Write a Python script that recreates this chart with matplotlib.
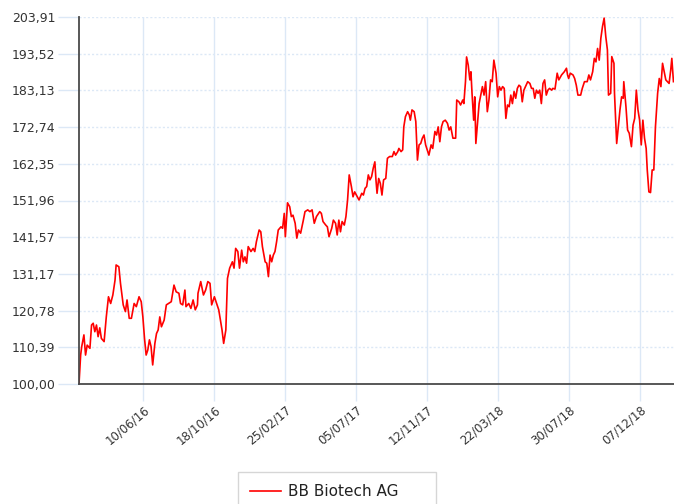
import numpy as np
import pandas as pd
import matplotlib
matplotlib.use('Agg')
import matplotlib.pyplot as plt

# prices, day offsets counted from the first trading day
start_date = '2016-02-13'
day_offsets = [
    0, 3, 5, 9, 12, 15, 20, 23, 26, 29, 32, 35, 38, 41, 46, 50, 54, 58, 62, 66,
    68, 73, 76, 81, 85, 88, 92, 96, 101, 105, 110, 114, 117, 120, 123, 126, 129, 132, 135, 139,
    142, 145, 148, 151, 156, 160, 164, 169, 174, 178, 183, 186, 190, 194, 196, 201, 205, 209, 213, 217,
    218, 223, 228, 232, 236, 240, 243, 248, 252, 256, 260, 262, 265, 269, 272, 276, 281, 284, 287, 291,
    294, 298, 301, 304, 307, 310, 315, 319, 322, 325, 330, 333, 336, 341, 344, 347, 350, 353, 356, 359,
    362, 365, 370, 373, 376, 378, 382, 386, 389, 392, 396, 399, 402, 406, 411, 414, 419, 423, 427, 431,
    435, 441, 444, 447, 452, 455, 458, 463, 466, 470, 473, 476, 479, 482, 486, 489, 492, 495, 499, 502,
    505, 510, 513, 518, 521, 524, 527, 530, 533, 536, 539, 542, 544, 546, 549, 552, 555, 558, 562, 565,
    569, 574, 577, 580, 584, 586, 590, 593, 595, 598, 602, 605, 607, 610, 614, 617, 620, 623, 626, 629,
    632, 635, 638, 641, 645, 648, 652, 655, 658, 661, 664, 667, 671, 675, 678, 681, 685, 690, 692, 696,
    699, 703, 705, 708, 710, 713, 716, 718, 720, 723, 725, 727, 730, 733, 736, 739, 742, 745, 748, 751,
    754, 757, 760, 764, 767, 770, 773, 776, 779, 782, 785, 788, 791, 794, 797, 800, 803, 806, 809, 812,
    815, 818, 822, 826, 829, 832, 835, 838, 841, 844, 847, 850, 853, 856, 859, 862, 866, 868, 872, 876,
    879, 884, 889, 893, 895, 897, 900, 905, 908, 911, 914, 919, 922, 926, 931, 934, 937, 941, 944, 947,
    950, 953, 956, 959, 962, 965, 968, 970, 974, 976, 980, 981, 985, 988, 991, 994, 997, 998, 1002, 1005,
    1008, 1012, 1015, 1018, 1021, 1024, 1027, 1030, 1033, 1036, 1039, 1041, 1044, 1047, 1050, 1053, 1056, 1060, 1063, 1066,
    1069, 1072, 1075, 1078, 1081, 1084, 1086, 1089,
]
prices = [
    100.0, 108.2, 110.6, 113.9, 108.2, 111.0, 110.1, 116.7, 117.2, 114.8, 116.7, 113.4, 115.9, 112.9, 112.0, 119.0, 124.7, 122.8, 125.2, 129.4,
    133.7, 133.2, 128.5, 122.4, 120.5, 123.8, 118.6, 118.6, 122.8, 121.9, 124.7, 123.3, 119.0, 112.9, 108.2, 109.6, 112.5, 110.6, 105.4, 111.5,
    114.3, 115.3, 119.0, 116.2, 118.1, 122.4, 122.8, 123.3, 128.0, 126.1, 125.7, 122.8, 122.4, 126.6, 121.9, 122.8, 121.4, 123.8, 121.0, 122.4,
    125.7, 129.0, 125.2, 126.6, 129.0, 128.5, 122.4, 124.7, 122.8, 121.0, 117.2, 115.3, 111.5, 115.3, 129.9, 132.8, 134.6, 132.8, 138.4, 137.5,
    132.8, 137.9, 134.6, 136.0, 134.2, 138.9, 137.5, 138.4, 137.5, 140.3, 143.6, 143.1, 138.9, 134.6, 134.2, 130.4, 136.5, 134.6, 136.5, 137.5,
    140.3, 143.6, 144.5, 144.1, 148.3, 141.7, 151.3, 150.2, 147.4, 147.8, 145.5, 141.3, 143.6, 142.7, 146.4, 148.8, 149.3, 148.8, 149.3, 145.5,
    147.4, 148.8, 148.3, 146.0, 145.0, 144.5, 141.7, 144.1, 146.4, 145.5, 142.2, 146.4, 143.1, 146.0, 145.0, 147.4, 152.1, 159.2, 155.9, 153.0,
    154.4, 153.0, 152.1, 154.0, 153.5, 155.4, 155.9, 159.2, 157.8, 158.7, 161.1, 162.9, 157.8, 154.0, 158.2, 156.8, 153.5, 157.8, 158.2, 163.9,
    164.4, 164.4, 165.8, 164.8, 165.8, 166.7, 165.8, 166.3, 172.8, 175.7, 177.1, 176.2, 174.7, 177.6, 177.1, 174.3, 163.4, 167.7, 168.1, 169.6,
    170.5, 167.7, 166.3, 164.8, 167.7, 166.7, 171.5, 170.5, 172.8, 168.6, 172.8, 174.3, 174.7, 173.8, 171.9, 172.8, 169.6, 169.6, 180.4, 179.9,
    179.0, 180.4, 179.4, 185.6, 192.6, 190.3, 186.1, 188.4, 182.3, 174.7, 181.3, 168.1, 173.8, 179.4, 181.8, 184.2, 181.8, 185.6, 177.1, 180.4,
    186.1, 185.6, 191.7, 188.0, 181.3, 184.2, 183.2, 184.2, 183.7, 175.2, 179.0, 178.5, 181.8, 179.4, 182.8, 180.9, 183.7, 184.6, 184.2, 179.9,
    183.2, 184.2, 185.6, 185.1, 183.7, 183.7, 180.9, 183.2, 182.3, 183.2, 179.4, 185.1, 186.1, 181.8, 183.2, 183.7, 183.2, 183.7, 183.5, 188.0,
    186.1, 187.5, 188.4, 189.4, 187.5, 186.5, 188.0, 187.5, 186.5, 184.6, 181.8, 181.8, 183.7, 185.6, 185.6, 187.5, 186.1, 188.4, 192.2, 191.2,
    195.0, 191.7, 197.9, 201.2, 203.6, 198.4, 194.6, 181.8, 182.3, 192.7, 190.8, 182.3, 168.1, 172.8, 177.6, 181.3, 180.9, 185.6, 178.5, 171.9,
    171.0, 167.2, 173.3, 175.2, 183.2, 177.6, 174.7, 167.7, 174.7, 169.6, 166.7, 160.6, 154.4, 154.2, 160.6, 160.6, 172.8, 182.3, 186.5, 184.2,
    190.8, 188.4, 186.1, 185.6, 185.1, 188.9, 192.2, 185.6,
]
series_name = 'BB Biotech AG'

x_ticks = ['2016-06-10', '2016-10-18', '2017-02-25', '2017-07-05',
           '2017-11-12', '2018-03-22', '2018-07-30', '2018-12-07']
y_min, y_max = 100.0, 203.91
y_tick_labels = ['100,00', '110,39', '120,78', '131,17', '141,57', '151,96',
                 '162,35', '172,74', '183,13', '193,52', '203,91']

dates = pd.Timestamp(start_date) + pd.to_timedelta(day_offsets, unit='D')
end_date = pd.Timestamp(start_date) + pd.Timedelta(days=1090)

grid_col = '#dce8f6'
text_col = '#333333'

fig = plt.figure(figsize=(6.74, 5.04), dpi=100)
ax = fig.add_axes([79 / 674, 1 - 384 / 504, 595 / 674, 367 / 504])

ax.plot(dates, prices, color='#ff0000', linewidth=1.2, label=series_name, zorder=3)

ax.set_xlim(pd.Timestamp(start_date), end_date)
ax.set_ylim(y_min, y_max)

ax.set_yticks(np.linspace(y_min, y_max, len(y_tick_labels)))
ax.set_yticklabels(y_tick_labels)
ax.set_xticks(pd.to_datetime(x_ticks))
ax.set_xticklabels([pd.Timestamp(d).strftime('%d/%m/%y') for d in x_ticks],
                   rotation=40, ha='right', rotation_mode='anchor')

ax.yaxis.grid(True, color=grid_col, linestyle=(0, (1.5, 1.5)), linewidth=1)
ax.xaxis.grid(True, color=grid_col, linestyle='-', linewidth=1)
ax.set_axisbelow(True)

ax.tick_params(axis='y', length=15, width=1, color=grid_col, pad=2,
               labelsize=9, labelcolor=text_col)
ax.tick_params(axis='x', length=12, width=1, color=grid_col, pad=2,
               labelsize=8.5, labelcolor=text_col)

for side in ['top', 'right']:
    ax.spines[side].set_visible(False)
for side in ['left', 'bottom']:
    ax.spines[side].set_color('#4a4a4a')
    ax.spines[side].set_linewidth(1.3)
    ax.spines[side].set_zorder(4)

leg_top = 1 - 472 / 504
leg = fig.legend(loc='upper left', bbox_to_anchor=(238 / 674, leg_top - 0.1, 198 / 674, 0.1),
                 mode='expand', fontsize=11, frameon=True, fancybox=False,
                 edgecolor='#cccccc', borderpad=0.8, handlelength=2.0,
                 handletextpad=0.5, borderaxespad=0)
leg.get_frame().set_linewidth(1)
for t in leg.get_texts():
    t.set_color('#222222')

fig.savefig('out.png', dpi=100)
